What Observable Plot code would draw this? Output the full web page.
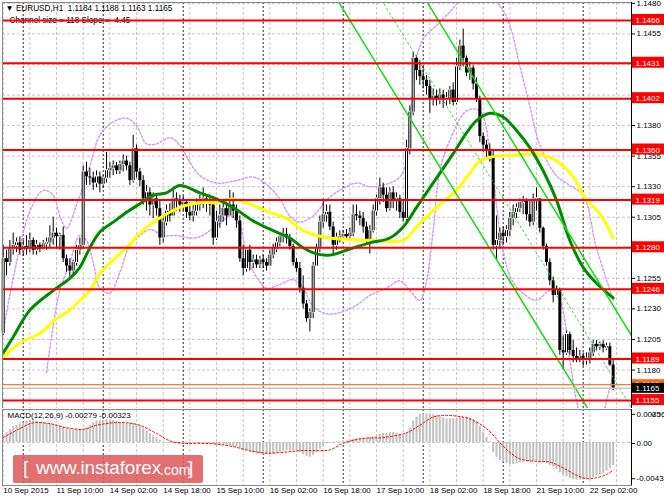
<!DOCTYPE html>
<html><head><meta charset="utf-8">
<script src="https://cdn.jsdelivr.net/npm/d3@7"></script>
<script src="https://cdn.jsdelivr.net/npm/@observablehq/plot@0.6"></script>
<style>
body{margin:0;background:#fff;}
#wrap{position:relative;width:664px;height:498px;overflow:hidden;background:#fff;font-family:"Liberation Sans",Arial,sans-serif;}
#main{position:absolute;left:0;top:0;}
#macd{position:absolute;left:0;top:408px;}
#wm{position:absolute;left:13px;top:455px;width:190px;height:28px;background:rgba(222,88,88,0.86);border-radius:2px;color:#fff;white-space:nowrap;line-height:28px;}
#wm .b{font-size:19px;position:absolute;left:10px;top:-1px;}
#wm .u{font-size:19px;position:absolute;left:23px;top:-1px;letter-spacing:-0.2px;}
#wm .c{font-size:14px;position:absolute;left:147px;top:1px;}
#wm .e{font-size:19px;position:absolute;left:175px;top:-1px;}
</style></head><body>
<div id="wrap"><div id="main"></div><div id="macd"></div>
<div id="wm"><span class="b">[</span><span class="u">www.instaforex</span><span class="c">.com</span><span class="e">]</span></div>
</div>
<script>
// ---- price data (EURUSD H1, 10 Sep 18:00 .. 22 Sep 09:00) ----
const firstOpen = 1.1210;
const C = [
1.1271,1.1268,1.1279,1.1282,1.1284,1.1278,1.1281,1.1279,1.1286,1.1278,
1.1282,1.1279,1.1283,1.1284,1.1288,1.1292,1.1289,1.1290,1.1271,1.1265,
1.1261,1.1268,1.1278,1.1282,1.1342,1.1338,1.1337,1.1333,1.1338,1.1332,
1.1337,1.1343,1.1345,1.1347,1.1343,1.1348,1.1351,1.1347,1.1335,1.1361,
1.1342,1.1335,1.1320,1.1325,1.1315,1.1320,1.1312,1.1288,1.1301,1.1310,
1.1306,1.1320,1.1319,1.1315,1.1317,1.1309,1.1306,1.1310,1.1315,1.1319,
1.1320,1.1317,1.1315,1.1288,1.1301,1.1306,1.1312,1.1306,1.1315,1.1310,
1.1302,1.1271,1.1263,1.1278,1.1268,1.1270,1.1266,1.1270,1.1268,1.1265,
1.1274,1.1279,1.1284,1.1289,1.1291,1.1288,1.1281,1.1268,1.1263,1.1247,
1.1234,1.1222,1.1227,1.1265,1.1279,1.1301,1.1307,1.1309,1.1297,1.1282,
1.1288,1.1289,1.1291,1.1289,1.1292,1.1307,1.1306,1.1304,1.1297,1.1286,
1.1294,1.1310,1.1320,1.1329,1.1323,1.1312,1.1325,1.1319,1.1320,1.1309,
1.1304,1.1361,1.1391,1.1435,1.1425,1.1420,1.1417,1.1412,1.1402,1.1404,
1.1401,1.1405,1.1401,1.1402,1.1409,1.1399,1.1428,1.1445,1.1435,1.1423,
1.1427,1.1414,1.1402,1.1371,1.1364,1.1360,1.1355,1.1282,1.1286,1.1292,
1.1289,1.1294,1.1304,1.1309,1.1312,1.1317,1.1319,1.1307,1.1301,1.1319,
1.1320,1.1296,1.1281,1.1268,1.1253,1.1241,1.1245,1.1196,1.1194,1.1209,
1.1196,1.1191,1.1189,1.1191,1.1188,1.1189,1.1194,1.1201,1.1199,1.1201,
1.1198,1.1199,1.1184,1.1165];
const H = [
1.1282,1.1278,1.1286,1.1292,1.1288,1.1289,1.1286,1.1290,1.1292,1.1288,
1.1286,1.1284,1.1286,1.1288,1.1298,1.1305,1.1296,1.1292,1.1297,1.1274,
1.1271,1.1270,1.1282,1.1288,1.1347,1.1350,1.1345,1.1342,1.1343,1.1342,
1.1339,1.1358,1.1350,1.1351,1.1350,1.1351,1.1356,1.1355,1.1350,1.1372,
1.1364,1.1345,1.1339,1.1331,1.1329,1.1325,1.1323,1.1319,1.1306,1.1315,
1.1316,1.1327,1.1325,1.1323,1.1322,1.1319,1.1317,1.1315,1.1320,1.1323,
1.1329,1.1322,1.1323,1.1322,1.1310,1.1315,1.1319,1.1320,1.1327,1.1325,
1.1315,1.1306,1.1282,1.1279,1.1282,1.1274,1.1274,1.1273,1.1274,1.1271,
1.1278,1.1283,1.1288,1.1292,1.1296,1.1296,1.1291,1.1283,1.1271,1.1268,
1.1257,1.1237,1.1230,1.1268,1.1283,1.1306,1.1320,1.1315,1.1315,1.1301,
1.1292,1.1294,1.1294,1.1295,1.1296,1.1315,1.1315,1.1310,1.1309,1.1301,
1.1298,1.1315,1.1323,1.1337,1.1333,1.1329,1.1329,1.1330,1.1325,1.1323,
1.1319,1.1368,1.1396,1.1440,1.1437,1.1433,1.1429,1.1421,1.1417,1.1410,
1.1409,1.1410,1.1409,1.1407,1.1412,1.1415,1.1435,1.1450,1.1459,1.1437,
1.1432,1.1429,1.1419,1.1404,1.1374,1.1368,1.1365,1.1360,1.1306,1.1296,
1.1297,1.1298,1.1309,1.1315,1.1316,1.1320,1.1322,1.1320,1.1319,1.1324,
1.1329,1.1320,1.1297,1.1283,1.1271,1.1256,1.1249,1.1247,1.1208,1.1212,
1.1211,1.1204,1.1198,1.1196,1.1194,1.1194,1.1198,1.1204,1.1204,1.1203,
1.1204,1.1202,1.1202,1.1188];
const L = [
1.1208,1.1257,1.1265,1.1274,1.1276,1.1274,1.1273,1.1274,1.1276,1.1274,
1.1274,1.1276,1.1278,1.1278,1.1279,1.1282,1.1279,1.1278,1.1268,1.1260,
1.1256,1.1257,1.1265,1.1274,1.1279,1.1331,1.1331,1.1327,1.1329,1.1325,
1.1329,1.1333,1.1337,1.1339,1.1340,1.1340,1.1342,1.1343,1.1331,1.1333,
1.1337,1.1330,1.1315,1.1310,1.1306,1.1304,1.1306,1.1282,1.1284,1.1298,
1.1301,1.1306,1.1310,1.1309,1.1310,1.1304,1.1302,1.1301,1.1306,1.1310,
1.1312,1.1309,1.1306,1.1282,1.1286,1.1296,1.1301,1.1298,1.1306,1.1304,
1.1296,1.1268,1.1257,1.1260,1.1261,1.1263,1.1263,1.1263,1.1263,1.1261,
1.1265,1.1271,1.1276,1.1281,1.1284,1.1283,1.1278,1.1265,1.1260,1.1243,
1.1230,1.1219,1.1211,1.1222,1.1265,1.1276,1.1296,1.1301,1.1294,1.1275,
1.1278,1.1284,1.1286,1.1286,1.1286,1.1289,1.1302,1.1298,1.1292,1.1282,
1.1275,1.1292,1.1306,1.1315,1.1317,1.1309,1.1310,1.1312,1.1310,1.1304,
1.1301,1.1301,1.1356,1.1388,1.1417,1.1413,1.1410,1.1405,1.1390,1.1396,
1.1396,1.1397,1.1394,1.1396,1.1397,1.1396,1.1397,1.1425,1.1428,1.1420,
1.1417,1.1409,1.1399,1.1366,1.1358,1.1353,1.1350,1.1278,1.1270,1.1279,
1.1282,1.1284,1.1289,1.1298,1.1304,1.1309,1.1307,1.1302,1.1297,1.1298,
1.1310,1.1292,1.1278,1.1265,1.1249,1.1235,1.1240,1.1192,1.1180,1.1192,
1.1192,1.1186,1.1186,1.1186,1.1183,1.1184,1.1185,1.1191,1.1196,1.1196,
1.1194,1.1196,1.1183,1.1163];

// ---- moving averages (sampled at bar indices) ----
const greenBars = [0,3,8,15,20,23,26,29,33,37,41,45,49,53,59,64,69,75,81,86,90,94,98,104,110,116,120,124,128,135,139,142,146,150,154,158,162,166,170,174,178,183];
const greenVals = [1.1194,1.1207,1.1229,1.1245,1.1255,1.1264,1.1280,1.1293,1.1301,1.1309,1.1316,1.1323,1.1325,1.1331,1.1325,1.1320,1.1313,1.1302,1.1294,1.1288,1.1280,1.1275,1.1274,1.1279,1.1284,1.1288,1.1297,1.1313,1.1329,1.1357,1.1374,1.1384,1.1390,1.1387,1.1376,1.1362,1.1343,1.1319,1.1286,1.1264,1.1251,1.1239];
const yellowBars = [0,5,11,16,20,23,26,29,33,37,41,45,48,53,59,64,69,73,79,85,90,94,98,111,120,124,130,136,140,143,148,154,160,166,171,175,179,183];
const yellowVals = [1.1190,1.1202,1.1210,1.1222,1.1229,1.1237,1.1245,1.1259,1.1270,1.1280,1.1292,1.1301,1.1306,1.1313,1.1317,1.1317,1.1320,1.1317,1.1310,1.1304,1.1294,1.1290,1.1288,1.1286,1.1286,1.1297,1.1313,1.1327,1.1341,1.1351,1.1355,1.1356,1.1357,1.1351,1.1338,1.1319,1.1308,1.1288];
// ---- bands ----
const upperBars = [0,4,8,12,15,17,19,22,26,29,33,37,40,43,46,50,53,56,59,64,70,75,79,83,86,89,93,97,101,106,110,115,119,121,122,123,124,126,130,134,137,140,145,149,152,155,158,161,166,170,174,178,183];
const upperVals = [1.1212,1.1268,1.1310,1.1327,1.1323,1.1306,1.1296,1.1315,1.1347,1.1372,1.1383,1.1386,1.1380,1.1365,1.1365,1.1370,1.1364,1.1350,1.1339,1.1333,1.1335,1.1338,1.1332,1.1320,1.1306,1.1301,1.1306,1.1319,1.1327,1.1333,1.1330,1.1332,1.1338,1.1351,1.1384,1.1413,1.1435,1.1451,1.1462,1.1473,1.1482,1.1486,1.1486,1.1478,1.1462,1.1429,1.1396,1.1364,1.1339,1.1331,1.1323,1.1280,1.1237];
const lowerBars = [13,15,17,20,23,25,27,29,32,35,38,41,44,48,52,56,59,63,66,68,71,73,76,79,83,87,90,93,97,101,106,110,115,119,122,125,127,129,131,134,139,143,146,149,152,155,160,164,167,170,172,175,179,181,183];
const lowerVals = [1.1178,1.1216,1.1245,1.1268,1.1290,1.1286,1.1268,1.1247,1.1243,1.1260,1.1282,1.1290,1.1295,1.1290,1.1290,1.1288,1.1289,1.1296,1.1302,1.1306,1.1298,1.1275,1.1256,1.1247,1.1250,1.1254,1.1247,1.1232,1.1226,1.1227,1.1233,1.1241,1.1247,1.1253,1.1245,1.1237,1.1253,1.1294,1.1343,1.1368,1.1392,1.1392,1.1360,1.1294,1.1257,1.1245,1.1237,1.1245,1.1237,1.1188,1.1155,1.1130,1.1134,1.1155,1.1176];
// ---- regression channel ----
const chanBars = [90, 190];
const chanLow = [1.15285, 1.10835];
const chanMid = [1.15875, 1.11425];
const chanUp = [1.16465, 1.12015];
// ---- levels ----
const levels = [1.1466,1.1431,1.1402,1.1360,1.1319,1.1280,1.1246,1.1189,1.1155];
const orangeLevel = 1.1168;
const lastPrice = 1.1165;
const priceTicks = [1.1480,1.1455,1.1430,1.1405,1.1380,1.1355,1.1330,1.1305,1.1280,1.1255,1.1230,1.1205,1.1180,1.1155];
const priceTickLabels = [1.1480,1.1455,1.1405,1.1380,1.1355,1.1330,1.1305,1.1255,1.1230,1.1205,1.1180];
// ---- time axis ----
const daySeps = [6,30,54,78,102,126,150,174];
const labelBars = [0,16,32,48,64,80,96,112,128,144,160,176];
const labelText = ["10 Sep 2015","11 Sep 10:00","14 Sep 02:00","14 Sep 18:00","15 Sep 10:00","16 Sep 02:00","16 Sep 18:00","17 Sep 10:00","18 Sep 02:00","18 Sep 18:00","21 Sep 10:00","22 Sep 02:00"];
const gridBars = d3.range(0, 189, 8);
// ---- MACD ----
const macdHist = [0.0008,0.0012,0.0016,0.0019,0.0021,0.0023,0.0024,0.0026,0.0027,0.0027,
0.0026,0.0024,0.0024,0.0023,0.0023,0.0022,0.0021,0.0020,0.0019,0.0017,
0.0016,0.0015,0.0015,0.0015,0.0016,0.0018,0.0021,0.0024,0.0026,0.0027,
0.0027,0.0028,0.0027,0.0027,0.0026,0.0024,0.0024,0.0023,0.0023,0.0023,
0.0022,0.0020,0.0017,0.0014,0.0011,0.0008,0.0006,0.0003,0.0000,-0.0001,
-0.0001,-0.0001,-0.0001,-0.0002,-0.0002,-0.0002,-0.0002,-0.0001,-0.0001,-0.0001,
-0.0001,-0.0001,-0.0002,-0.0002,-0.0003,-0.0003,-0.0003,-0.0004,-0.0004,-0.0005,
-0.0006,-0.0007,-0.0009,-0.0010,-0.0012,-0.0013,-0.0014,-0.0014,-0.0015,-0.0015,
-0.0015,-0.0014,-0.0013,-0.0012,-0.0011,-0.0010,-0.0010,-0.0010,-0.0010,-0.0012,
-0.0015,-0.0017,-0.0018,-0.0016,-0.0012,-0.0008,-0.0005,-0.0002,-0.0001,0.0000,
0.0001,0.0001,0.0002,0.0002,0.0003,0.0004,0.0005,0.0005,0.0005,0.0005,
0.0006,0.0007,0.0008,0.0010,0.0011,0.0011,0.0012,0.0012,0.0011,0.0010,
0.0009,0.0012,0.0017,0.0026,0.0031,0.0034,0.0035,0.0035,0.0035,0.0034,
0.0033,0.0031,0.0030,0.0029,0.0029,0.0029,0.0030,0.0031,0.0031,0.0031,
0.0030,0.0028,0.0025,0.0020,0.0012,0.0006,0.0001,-0.0012,-0.0018,-0.0022,
-0.0024,-0.0026,-0.0027,-0.0027,-0.0026,-0.0025,-0.0024,-0.0024,-0.0024,-0.0023,
-0.0023,-0.0023,-0.0024,-0.0026,-0.0028,-0.0030,-0.0033,-0.0037,-0.0040,-0.0042,
-0.0044,-0.0045,-0.0046,-0.0046,-0.0046,-0.0045,-0.0044,-0.0043,-0.0041,-0.0040,
-0.0038,-0.0035,-0.0032,-0.0028];
const signalBars = [0,5,9,14,19,24,28,33,37,41,46,50,54,59,64,69,74,79,84,89,94,98,102,108,114,121,125,129,133,138,141,145,149,152,155,160,164,168,172,175,178,181,183];
const signalVals = [0.0006,0.0017,0.0024,0.0023,0.0018,0.0016,0.0021,0.0024,0.0024,0.0021,0.0011,0.0002,-0.0001,-0.0001,-0.0002,-0.0005,-0.0010,-0.0013,-0.0012,-0.0010,-0.0010,-0.0009,-0.0001,0.0005,0.0006,0.0012,0.0021,0.0031,0.0033,0.0031,0.0027,0.0017,0.0000,-0.0012,-0.0020,-0.0023,-0.0024,-0.0031,-0.0040,-0.0044,-0.0043,-0.0039,-0.0034];
const macdTicks = [0.00356, 0, -0.0043];
const macdTickText = ["0.00356", "0.00", "-0.0043"];

const headerText = "\u25BC EURUSD,H1  1.1184 1.1188 1.1163 1.1165";
const channelText = "Channel size = 118 Slope = -4.45";
const macdText = "MACD(12,26,9) -0.00279 -0.00323";

// ---- derived tables ----
const candles = C.map((c, i) => ({i, o: i === 0 ? firstOpen : C[i - 1], h: H[i], l: L[i], c}));
const bulls = candles.filter(d => d.c > d.o);
const pts = (bs, vs) => bs.map((b, k) => ({b, v: vs[k]}));
const xDom = [-0.21, 188.5];
const FONT = '"Liberation Sans", Arial, sans-serif';
const BAND = "#cfa0ee";

const main = Plot.plot({
  width: 664, height: 408,
  marginLeft: 2, marginRight: 33, marginTop: 2, marginBottom: 0,
  x: {domain: xDom, axis: null},
  y: {domain: [1.11485, 1.14807], axis: null},
  style: {fontFamily: FONT, fontSize: "8px", background: "white", overflow: "visible"},
  marks: [
    Plot.ruleX(gridBars, {stroke: "#c6c6c6", strokeDasharray: "3,2"}),
    Plot.ruleY(priceTicks, {stroke: "#c6c6c6", strokeDasharray: "3,2"}),
    Plot.ruleX(daySeps, {stroke: "#222", strokeDasharray: "2,2"}),
    Plot.text([headerText], {frameAnchor: "top-left", dx: 3, dy: 6, lineAnchor: "middle", textAnchor: "start", fill: "#000", fontSize: 8.2}),
    Plot.text([channelText], {frameAnchor: "top-left", dx: 7, dy: 18, lineAnchor: "middle", textAnchor: "start", fill: "#000", fontSize: 8.2}),
    Plot.line(pts(upperBars, upperVals), {x: "b", y: "v", stroke: BAND, strokeDasharray: "2,2", curve: "catmull-rom", clip: true}),
    Plot.line(pts(lowerBars, lowerVals), {x: "b", y: "v", stroke: BAND, strokeDasharray: "2,2", curve: "catmull-rom", clip: true}),
    Plot.ruleX(candles, {x: "i", y1: "l", y2: "h", stroke: "#000", strokeWidth: 1}),
    Plot.ruleX(candles, {x: "i", y1: "o", y2: "c", stroke: "#000", strokeWidth: 3}),
    Plot.ruleX(bulls, {x: "i", y1: "o", y2: "c", stroke: "#fff", strokeWidth: 1, insetTop: 1, insetBottom: 1}),
    Plot.line(pts(yellowBars, yellowVals), {x: "b", y: "v", stroke: "#ffff00", strokeWidth: 3, curve: "catmull-rom", clip: true}),
    Plot.line(pts(greenBars, greenVals), {x: "b", y: "v", stroke: "#008a00", strokeWidth: 3, curve: "catmull-rom", clip: true}),
    Plot.line(pts(chanBars, chanLow), {x: "b", y: "v", stroke: "#11dd11", strokeWidth: 1.5, clip: true}),
    Plot.line(pts(chanBars, chanUp), {x: "b", y: "v", stroke: "#11dd11", strokeWidth: 1.5, clip: true}),
    Plot.line(pts(chanBars, chanMid), {x: "b", y: "v", stroke: "#33dd33", strokeWidth: 1, strokeDasharray: "2,3", clip: true}),
    Plot.ruleY(levels, {stroke: "#ff0000", strokeWidth: 2}),
    Plot.ruleY([orangeLevel], {stroke: "#ff7a30", strokeWidth: 1.2}),
    Plot.ruleY([lastPrice], {stroke: "#c8c8c8", strokeWidth: 1.5}),
    Plot.frame({stroke: "#8a8a8a"}),
    Plot.axisY(priceTicks, {anchor: "right", tickFormat: () => "", tickSize: 3, stroke: "#000"}),
    Plot.axisY(priceTickLabels, {anchor: "right", tickFormat: d => d.toFixed(4), tickSize: 0, tickPadding: 5, fontSize: 8, fill: "#000"}),
    Plot.ruleX([xDom[1]], {stroke: "#000", strokeWidth: 1}),
    Plot.rect(levels, {x1: xDom[1], x2: xDom[1], y1: d => d, y2: d => d, insetLeft: 1, insetRight: -33, insetTop: -6, insetBottom: -5, fill: "#ff0000"}),
    Plot.text(levels, {x: xDom[1], y: d => d, text: d => d.toFixed(4), dx: 4, textAnchor: "start", fill: "#fff", fontSize: 8}),
    Plot.rect([orangeLevel], {x1: xDom[1], x2: xDom[1], y1: d => d, y2: d => d, insetLeft: 1, insetRight: -33, insetTop: -5, insetBottom: -4, fill: "#ff6a10"}),
    Plot.text([orangeLevel], {x: xDom[1], y: d => d, text: d => d.toFixed(4), dx: 4, textAnchor: "start", fill: "#fff", fontSize: 8}),
    Plot.rect([lastPrice], {x1: xDom[1], x2: xDom[1], y1: d => d, y2: d => d, insetLeft: 1, insetRight: -33, insetTop: -5, insetBottom: -5, fill: "#000"}),
    Plot.text([lastPrice], {x: xDom[1], y: d => d, text: d => d.toFixed(4), dx: 4, textAnchor: "start", fill: "#fff", fontSize: 8})
  ]
});
document.getElementById("main").appendChild(main);

const macdData = macdHist.map((v, i) => ({i, v}));
const macd = Plot.plot({
  width: 664, height: 90,
  marginLeft: 2, marginRight: 33, marginTop: 1, marginBottom: 13,
  x: {domain: xDom, axis: null},
  y: {domain: [-0.005248, 0.004027], axis: null},
  style: {fontFamily: FONT, fontSize: "8px", background: "white", overflow: "visible"},
  marks: [
    Plot.ruleX(gridBars, {stroke: "#c6c6c6", strokeDasharray: "3,2"}),
    Plot.ruleX(daySeps, {stroke: "#222", strokeDasharray: "2,2"}),
    Plot.ruleY([0], {stroke: "#c6c6c6", strokeDasharray: "3,2"}),
    Plot.ruleX(macdData, {x: "i", y1: 0, y2: "v", stroke: "#c0c0c0", strokeWidth: 2}),
    Plot.line(pts(signalBars, signalVals), {x: "b", y: "v", stroke: "#ff0000", strokeWidth: 1, strokeDasharray: "2,2", curve: "catmull-rom"}),
    Plot.text([macdText], {frameAnchor: "top-left", dx: 5, dy: 6, lineAnchor: "middle", textAnchor: "start", fill: "#000", fontSize: 8}),
    Plot.frame({stroke: "#8a8a8a"}),
    Plot.ruleX([xDom[1]], {stroke: "#000", strokeWidth: 1}),
    Plot.axisY(macdTicks, {anchor: "right", tickFormat: d => macdTickText[macdTicks.indexOf(d)], tickSize: 3, tickPadding: 2, fontSize: 8, fill: "#000", stroke: "#000", dy: 1}),
    Plot.axisX(labelBars, {anchor: "bottom", tickFormat: d => labelText[labelBars.indexOf(d)], tickSize: 0, tickPadding: 2, textAnchor: "start", fontSize: 8, fill: "#000"})
  ]
});
document.getElementById("macd").appendChild(macd);
</script>
</body></html>
